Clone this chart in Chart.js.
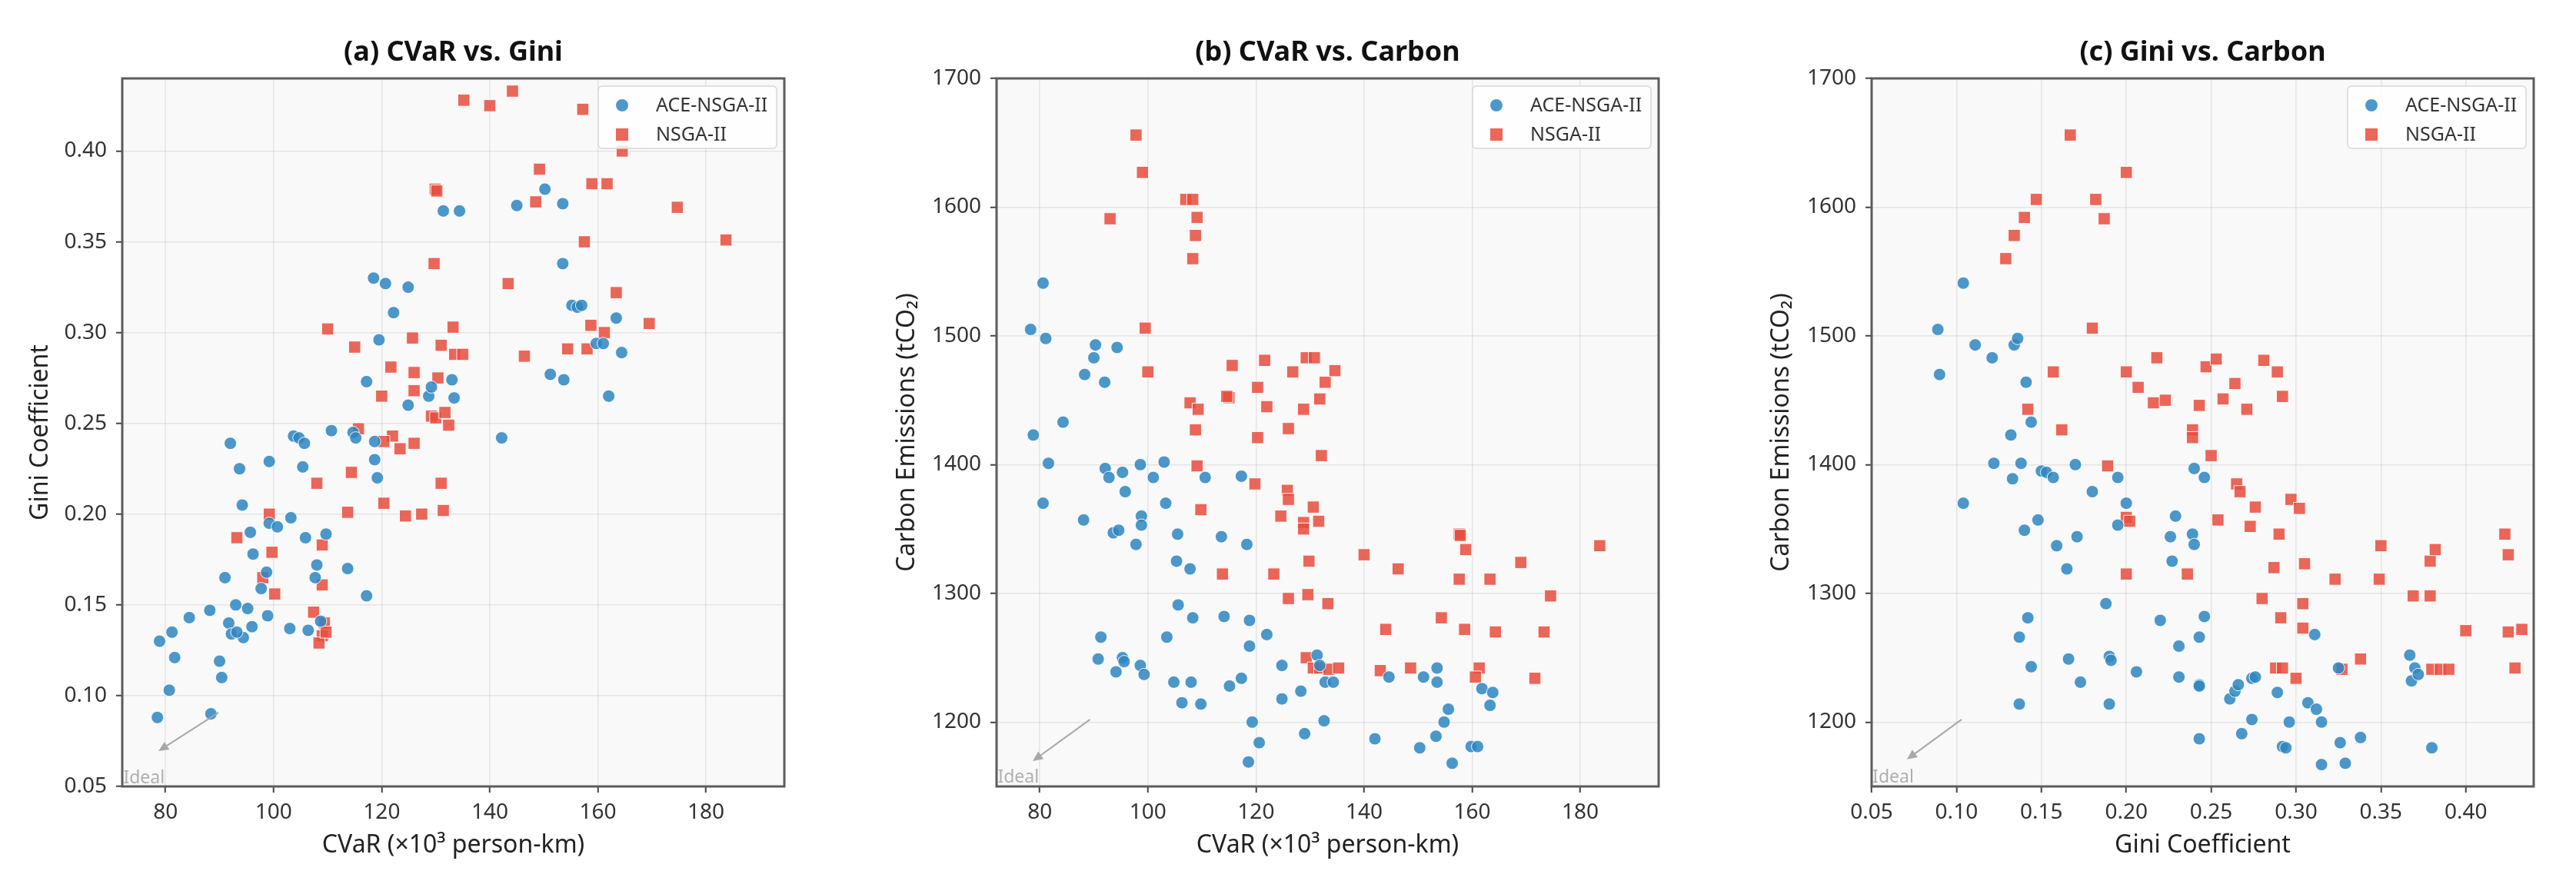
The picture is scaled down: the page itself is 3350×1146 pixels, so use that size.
<!DOCTYPE html>
<html>
<head>
<meta charset="utf-8">
<script src="https://cdn.jsdelivr.net/npm/chart.js@4.4.0/dist/chart.umd.min.js"></script>
<style>
  html, body { margin: 0; padding: 0; background: #ffffff; }
  body { width: 3350px; height: 1146px; overflow: hidden; position: relative; }
  .panel { position: absolute; top: 0; }
</style>
</head>
<body>
<div class="panel" style="left:0px"><canvas id="chartA" width="1040" height="1146"></canvas></div>
<div class="panel" style="left:1137px"><canvas id="chartB" width="1040" height="1146"></canvas></div>
<div class="panel" style="left:2275px"><canvas id="chartC" width="1040" height="1146"></canvas></div>
<script>
// ---------- series names ----------
const seriesNames = ['ACE-NSGA-II', 'NSGA-II'];

// ---------- panel titles & axis labels ----------
const titles = ['(a) CVaR vs. Gini', '(b) CVaR vs. Carbon', '(c) Gini vs. Carbon'];
const labelCvar = 'CVaR (×10³ person-km)';
const labelGini = 'Gini Coefficient';
const labelCarbon = 'Carbon Emissions (tCO₂)';

// ---------- tick labels ----------
const cvarTicks = [80, 100, 120, 140, 160, 180];
const giniTicks = [0.05, 0.10, 0.15, 0.20, 0.25, 0.30, 0.35, 0.40];
const carbonTicks = [1200, 1300, 1400, 1500, 1600, 1700];
const cvarRange = [72, 194.5];
const giniRange = [0.05, 0.44];
const carbonRange = [1150, 1700];

// ---------- (a) CVaR vs Gini ----------
const aceCvarA = [78.5,78.9,81.2,81.7,80.7,84.4,88.2,88.4,90,90.4,91,92,91.7,92.2,93,93.7,94.2,94.4,95.2,95.7,96,96.2,93.2,97.7,98.7,98.9,99.2,99.2,100.7,103.2,103,103.7,104.7,105.7,105.4,105.9,106.4,108,107.7,109.7,108.7,110.7,113.7,114.7,115.2,117.2,117.2,118.5,119.5,118.7,118.7,119.2,120.7,122.2,124.9,124.9,128.7,129.2,131.4,134.4,133,133.4,142.2,145,150.2,153.5,153.5,151.2,153.7,155.2,156.2,157,159.7,161,162,163.4,164.4];
const aceGiniA = [0.088,0.130,0.135,0.121,0.103,0.143,0.147,0.090,0.119,0.110,0.165,0.239,0.140,0.134,0.150,0.225,0.205,0.132,0.148,0.190,0.138,0.178,0.135,0.159,0.168,0.144,0.229,0.195,0.193,0.198,0.137,0.243,0.242,0.239,0.226,0.187,0.136,0.172,0.165,0.189,0.141,0.246,0.170,0.245,0.242,0.155,0.273,0.330,0.296,0.240,0.230,0.220,0.327,0.311,0.325,0.260,0.265,0.270,0.367,0.367,0.274,0.264,0.242,0.370,0.379,0.371,0.338,0.277,0.274,0.315,0.314,0.315,0.294,0.294,0.265,0.308,0.289];
const nsgaCvarA = [135.2,140,144.2,157.2,164.5,149.2,148.5,158.9,161.7,174.7,183.7,157.5,129.9,130.2,129.7,143.4,163.4,158.7,161.2,169.5,154.4,158,146.4,110,115,125.7,133.2,131,133.5,135,121.7,126,130.4,120,126,129.2,130,131.7,132.4,115.7,122,120.4,123.4,126,114.4,108,131,113.7,120.4,124.4,127.4,131.4,99.2,93.2,99.7,109,109,98,100.2,107.4,109.4,109,108.4,109.7];
const nsgaGiniA = [0.428,0.425,0.433,0.423,0.400,0.390,0.372,0.382,0.382,0.369,0.351,0.350,0.379,0.378,0.338,0.327,0.322,0.304,0.300,0.305,0.291,0.291,0.287,0.302,0.292,0.297,0.303,0.293,0.288,0.288,0.281,0.278,0.275,0.265,0.268,0.254,0.253,0.256,0.249,0.247,0.243,0.240,0.236,0.239,0.223,0.217,0.217,0.201,0.206,0.199,0.200,0.202,0.200,0.187,0.179,0.183,0.161,0.165,0.156,0.146,0.140,0.133,0.129,0.135];

// ---------- (b) CVaR vs Carbon ----------
const aceCvarB = [80.6,78.3,81.1,78.8,84.3,81.6,80.6,88.1,88.3,90.3,90,92,94.3,92.1,92.8,95.3,95.8,93.6,94.6,97.8,98.8,98.8,98.6,101,103,103.3,105.5,105.3,107.8,110.6,113.6,117.3,118.3,105.6,108.3,114.1,118.8,122,103.5,91.3,90.8,95.3,95.6,94.1,98.6,99.3,104.8,108,106.3,109.8,115.1,117.3,118.8,124.8,124.8,128.3,119.3,120.6,118.6,129,132.6,131.3,131.8,132.8,134.3,142,144.6,150.3,153.3,151,153.5,153.5,154.8,155.6,156.3,159.8,161,161.8,163.3,163.8];
const aceCarbonB = [1541,1505,1498,1423,1433,1401,1370,1357,1470,1493,1483,1464,1491,1397,1390,1394,1379,1347,1349,1338,1360,1353,1400,1390,1402,1370,1346,1325,1319,1390,1344,1391,1338,1291,1281,1282,1279,1268,1266,1266,1249,1250,1247,1239,1244,1237,1231,1231,1215,1214,1228,1234,1259,1244,1218,1224,1200,1184,1169,1191,1201,1252,1244,1231,1231,1187,1235,1180,1189,1235,1242,1231,1200,1210,1168,1181,1181,1226,1213,1223];
const nsgaCvarB = [97.8,99,93,107,108.3,109.1,108.8,108.3,99.5,100,107.8,109.3,108.8,109.1,109.8,113.8,115,115.6,114.6,121.6,120.3,122,120.3,119.8,126.8,129.3,130.8,128.8,131.8,132.8,134.6,126,132.1,125.8,126,124.6,128.8,128.8,130.6,131.6,129.8,129.6,133.3,126,123.3,129.3,130.6,131.8,133.5,135.3,140,146.3,144,143,148.6,154.3,157.6,157.8,158.8,157.6,158.6,161.3,160.6,163.3,164.3,169,173.3,174.5,171.6,183.6];
const nsgaCarbonB = [1656,1627,1591,1606,1606,1592,1578,1560,1506,1472,1448,1443,1427,1399,1365,1315,1452,1477,1453,1481,1460,1445,1421,1385,1472,1483,1483,1443,1451,1464,1473,1428,1407,1380,1373,1360,1355,1350,1367,1356,1325,1299,1292,1296,1315,1250,1242,1242,1241,1242,1330,1319,1272,1240,1242,1281,1346,1345,1334,1311,1272,1242,1235,1311,1270,1324,1270,1298,1234,1337];

// ---------- (c) Gini vs Carbon ----------
const aceGiniC = [0.104,0.089,0.090,0.111,0.121,0.134,0.136,0.141,0.132,0.144,0.122,0.133,0.138,0.150,0.153,0.157,0.170,0.104,0.140,0.148,0.159,0.165,0.171,0.180,0.195,0.200,0.195,0.229,0.226,0.240,0.246,0.239,0.240,0.227,0.142,0.137,0.188,0.220,0.231,0.246,0.243,0.144,0.166,0.173,0.190,0.191,0.206,0.137,0.190,0.231,0.243,0.243,0.261,0.264,0.266,0.274,0.276,0.274,0.268,0.243,0.289,0.296,0.292,0.294,0.307,0.312,0.315,0.311,0.315,0.329,0.326,0.338,0.325,0.367,0.368,0.370,0.372,0.380];
const aceCarbonC = [1541,1505,1470,1493,1483,1493,1498,1464,1423,1433,1401,1389,1401,1395,1394,1390,1400,1370,1349,1357,1337,1319,1344,1379,1390,1370,1353,1360,1344,1397,1390,1346,1338,1325,1281,1266,1292,1279,1259,1282,1266,1243,1249,1231,1251,1248,1239,1214,1214,1235,1229,1228,1218,1224,1229,1234,1235,1202,1191,1187,1223,1200,1181,1180,1215,1210,1200,1268,1167,1168,1184,1188,1242,1252,1232,1242,1237,1180];
const nsgaGiniC = [0.167,0.200,0.147,0.140,0.134,0.129,0.182,0.187,0.180,0.157,0.142,0.162,0.189,0.200,0.207,0.218,0.216,0.223,0.239,0.239,0.243,0.247,0.253,0.250,0.257,0.264,0.271,0.281,0.289,0.292,0.200,0.202,0.200,0.236,0.254,0.265,0.267,0.276,0.273,0.290,0.297,0.302,0.287,0.280,0.305,0.304,0.304,0.291,0.288,0.292,0.300,0.323,0.327,0.338,0.350,0.349,0.369,0.379,0.379,0.382,0.380,0.385,0.390,0.400,0.423,0.425,0.425,0.433,0.429];
const nsgaCarbonC = [1656,1627,1606,1592,1578,1560,1606,1591,1506,1472,1443,1427,1399,1472,1460,1483,1448,1450,1427,1421,1446,1476,1482,1407,1451,1463,1443,1481,1472,1453,1359,1356,1315,1315,1357,1385,1379,1367,1352,1346,1373,1366,1320,1296,1323,1292,1273,1281,1242,1242,1234,1311,1241,1249,1337,1311,1298,1298,1325,1334,1241,1241,1241,1271,1346,1330,1270,1272,1242];

// ---------- "Ideal" annotation (data coordinates: tail, head, text) ----------
const idealA = { tail: [89.8, 0.0907], head: [78.7, 0.0695], text: [72.2, 0.0505] };
const idealB = { tail: [89.3, 1202], head: [78.7, 1169.7], text: [72.2, 1151] };
const idealC = { tail: [0.103, 1202], head: [0.0708, 1171], text: [0.0505, 1151] };

// ---------- styling ----------
const FONT = "'Noto Sans', 'DejaVu Sans', sans-serif";
const BLUE = 'rgba(46,134,193,0.85)';
const RED = 'rgba(231,76,60,0.85)';

function zip(xs, ys) { return xs.map((x, i) => ({ x: x, y: ys[i] })); }

const decorPlugin = {
  id: 'panelDecor',
  beforeDraw(chart) {
    const a = chart.chartArea, ctx = chart.ctx;
    ctx.save();
    ctx.fillStyle = '#f9f9f9';
    ctx.fillRect(a.left, a.top, a.right - a.left, a.bottom - a.top);
    ctx.restore();
  },
  afterDatasetsDraw(chart, args, opts) {
    const ctx = chart.ctx, a = chart.chartArea;
    const xs = chart.scales.x, ys = chart.scales.y;
    const ideal = opts.ideal;
    // arrow
    const tx = xs.getPixelForValue(ideal.tail[0]), ty = ys.getPixelForValue(ideal.tail[1]);
    const hx = xs.getPixelForValue(ideal.head[0]), hy = ys.getPixelForValue(ideal.head[1]);
    const ang = Math.atan2(hy - ty, hx - tx);
    ctx.save();
    ctx.strokeStyle = '#a8a8a8';
    ctx.fillStyle = '#a8a8a8';
    ctx.lineWidth = 2;
    ctx.beginPath();
    ctx.moveTo(tx, ty);
    ctx.lineTo(hx - 8 * Math.cos(ang), hy - 8 * Math.sin(ang));
    ctx.stroke();
    ctx.beginPath();
    ctx.moveTo(hx, hy);
    ctx.lineTo(hx - 13 * Math.cos(ang) + 6 * Math.sin(ang), hy - 13 * Math.sin(ang) - 6 * Math.cos(ang));
    ctx.lineTo(hx - 13 * Math.cos(ang) - 6 * Math.sin(ang), hy - 13 * Math.sin(ang) + 6 * Math.cos(ang));
    ctx.closePath();
    ctx.fill();
    // text
    ctx.fillStyle = '#b0b0b0';
    ctx.font = '23px ' + FONT;
    ctx.textAlign = 'left';
    ctx.textBaseline = 'bottom';
    ctx.fillText('Ideal', xs.getPixelForValue(ideal.text[0]), ys.getPixelForValue(ideal.text[1]) + 2);
    ctx.restore();

    // legend box (upper right, inside axes)
    const boxW = 232, boxH = 81;
    const bx = a.right - 10 - boxW, by = a.top + 10;
    ctx.save();
    ctx.fillStyle = 'rgba(255,255,255,0.85)';
    ctx.strokeStyle = '#d8d8d8';
    ctx.lineWidth = 1.5;
    ctx.beginPath();
    if (ctx.roundRect) ctx.roundRect(bx, by, boxW, boxH, 5); else ctx.rect(bx, by, boxW, boxH);
    ctx.fill();
    ctx.stroke();
    const ds = chart.data.datasets;
    ds.forEach((d, i) => {
      const cy = by + 25 + i * 38;
      const cx = bx + 31;
      ctx.fillStyle = d.backgroundColor;
      if (d.pointStyle === 'rect') {
        ctx.fillRect(cx - 8, cy - 8, 16, 16);
      } else {
        ctx.beginPath();
        ctx.arc(cx, cy, 8, 0, Math.PI * 2);
        ctx.fill();
      }
      ctx.fillStyle = '#333333';
      ctx.font = '25px ' + FONT;
      ctx.textAlign = 'left';
      ctx.textBaseline = 'middle';
      ctx.fillText(d.label, bx + 75, cy + 1);
    });
    ctx.restore();
  },
  afterDraw(chart) {
    const a = chart.chartArea, ctx = chart.ctx;
    ctx.save();
    ctx.strokeStyle = '#5c5c5c';
    ctx.lineWidth = 3;
    ctx.strokeRect(a.left, a.top, a.right - a.left, a.bottom - a.top);
    ctx.restore();
  }
};

function axis(range, ticks, fmt, label, isX, titlePad) {
  const cfg = {
    type: 'linear',
    min: range[0],
    max: range[1],
    afterBuildTicks: (s) => { s.ticks = ticks.map(v => ({ value: v })); },
    ticks: {
      callback: (v) => fmt(v),
      font: { family: FONT, size: 28 },
      color: '#333333',
      padding: isX ? 9 : 12,
      maxRotation: 0,
      autoSkip: false
    },
    grid: {
      color: 'rgba(0,0,0,0.08)',
      lineWidth: 1.5,
      drawTicks: true,
      tickLength: 8,
      tickColor: '#444444',
      tickWidth: 2
    },
    border: { display: false },
    title: {
      display: true,
      text: label,
      color: '#222222',
      font: { family: FONT, size: 32, lineHeight: 1.2 },
      padding: isX ? { top: 0, bottom: titlePad } : { top: titlePad, bottom: 0 }
    }
  };
  if (isX) cfg.afterFit = (s) => { s.height = 123; };
  else cfg.afterFit = (s) => { s.width = 159; };
  return cfg;
}

const fmt2 = (v) => Number(v).toFixed(2);
const fmt0 = (v) => String(Math.round(v));

function makeChart(id, p) {
  return new Chart(document.getElementById(id), {
    type: 'scatter',
    data: {
      datasets: [
        { label: seriesNames[0], data: zip(p.aceX, p.aceY), pointStyle: 'circle', pointRadius: 8,
          backgroundColor: BLUE, borderColor: 'rgba(255,255,255,0.9)', borderWidth: 1 },
        { label: seriesNames[1], data: zip(p.nsgaX, p.nsgaY), pointStyle: 'rect', pointRadius: 11,
          backgroundColor: RED, borderColor: 'rgba(255,255,255,0.9)', borderWidth: 1 }
      ]
    },
    options: {
      responsive: false,
      animation: false,
      devicePixelRatio: 1,
      layout: { padding: { top: 40, right: 20, bottom: 0, left: 0 } },
      plugins: {
        legend: { display: false },
        tooltip: { enabled: false },
        title: {
          display: true,
          text: p.title,
          fullSize: false,
          color: '#111111',
          font: { family: FONT, size: 36, weight: 'bold', lineHeight: 1.2 },
          padding: { top: 7.4, bottom: 11.4 }
        },
        panelDecor: { ideal: p.ideal }
      },
      scales: {
        x: axis(p.xRange, p.xTicks, p.xFmt, p.xLabel, true, 26.8),
        y: axis(p.yRange, p.yTicks, p.yFmt, p.yLabel, false, p.yTitlePad)
      }
    },
    plugins: [decorPlugin]
  });
}

makeChart('chartA', {
  title: titles[0], aceX: aceCvarA, aceY: aceGiniA, nsgaX: nsgaCvarA, nsgaY: nsgaGiniA,
  xRange: cvarRange, xTicks: cvarTicks, xFmt: fmt0, xLabel: labelCvar,
  yRange: giniRange, yTicks: giniTicks, yFmt: fmt2, yLabel: labelGini, yTitlePad: 34,
  ideal: idealA
});
makeChart('chartB', {
  title: titles[1], aceX: aceCvarB, aceY: aceCarbonB, nsgaX: nsgaCvarB, nsgaY: nsgaCarbonB,
  xRange: cvarRange, xTicks: cvarTicks, xFmt: fmt0, xLabel: labelCvar,
  yRange: carbonRange, yTicks: carbonTicks, yFmt: fmt0, yLabel: labelCarbon, yTitlePad: 24,
  ideal: idealB
});
makeChart('chartC', {
  title: titles[2], aceX: aceGiniC, aceY: aceCarbonC, nsgaX: nsgaGiniC, nsgaY: nsgaCarbonC,
  xRange: giniRange, xTicks: giniTicks, xFmt: fmt2, xLabel: labelGini,
  yRange: carbonRange, yTicks: carbonTicks, yFmt: fmt0, yLabel: labelCarbon, yTitlePad: 23,
  ideal: idealC
});
</script>
</body>
</html>
